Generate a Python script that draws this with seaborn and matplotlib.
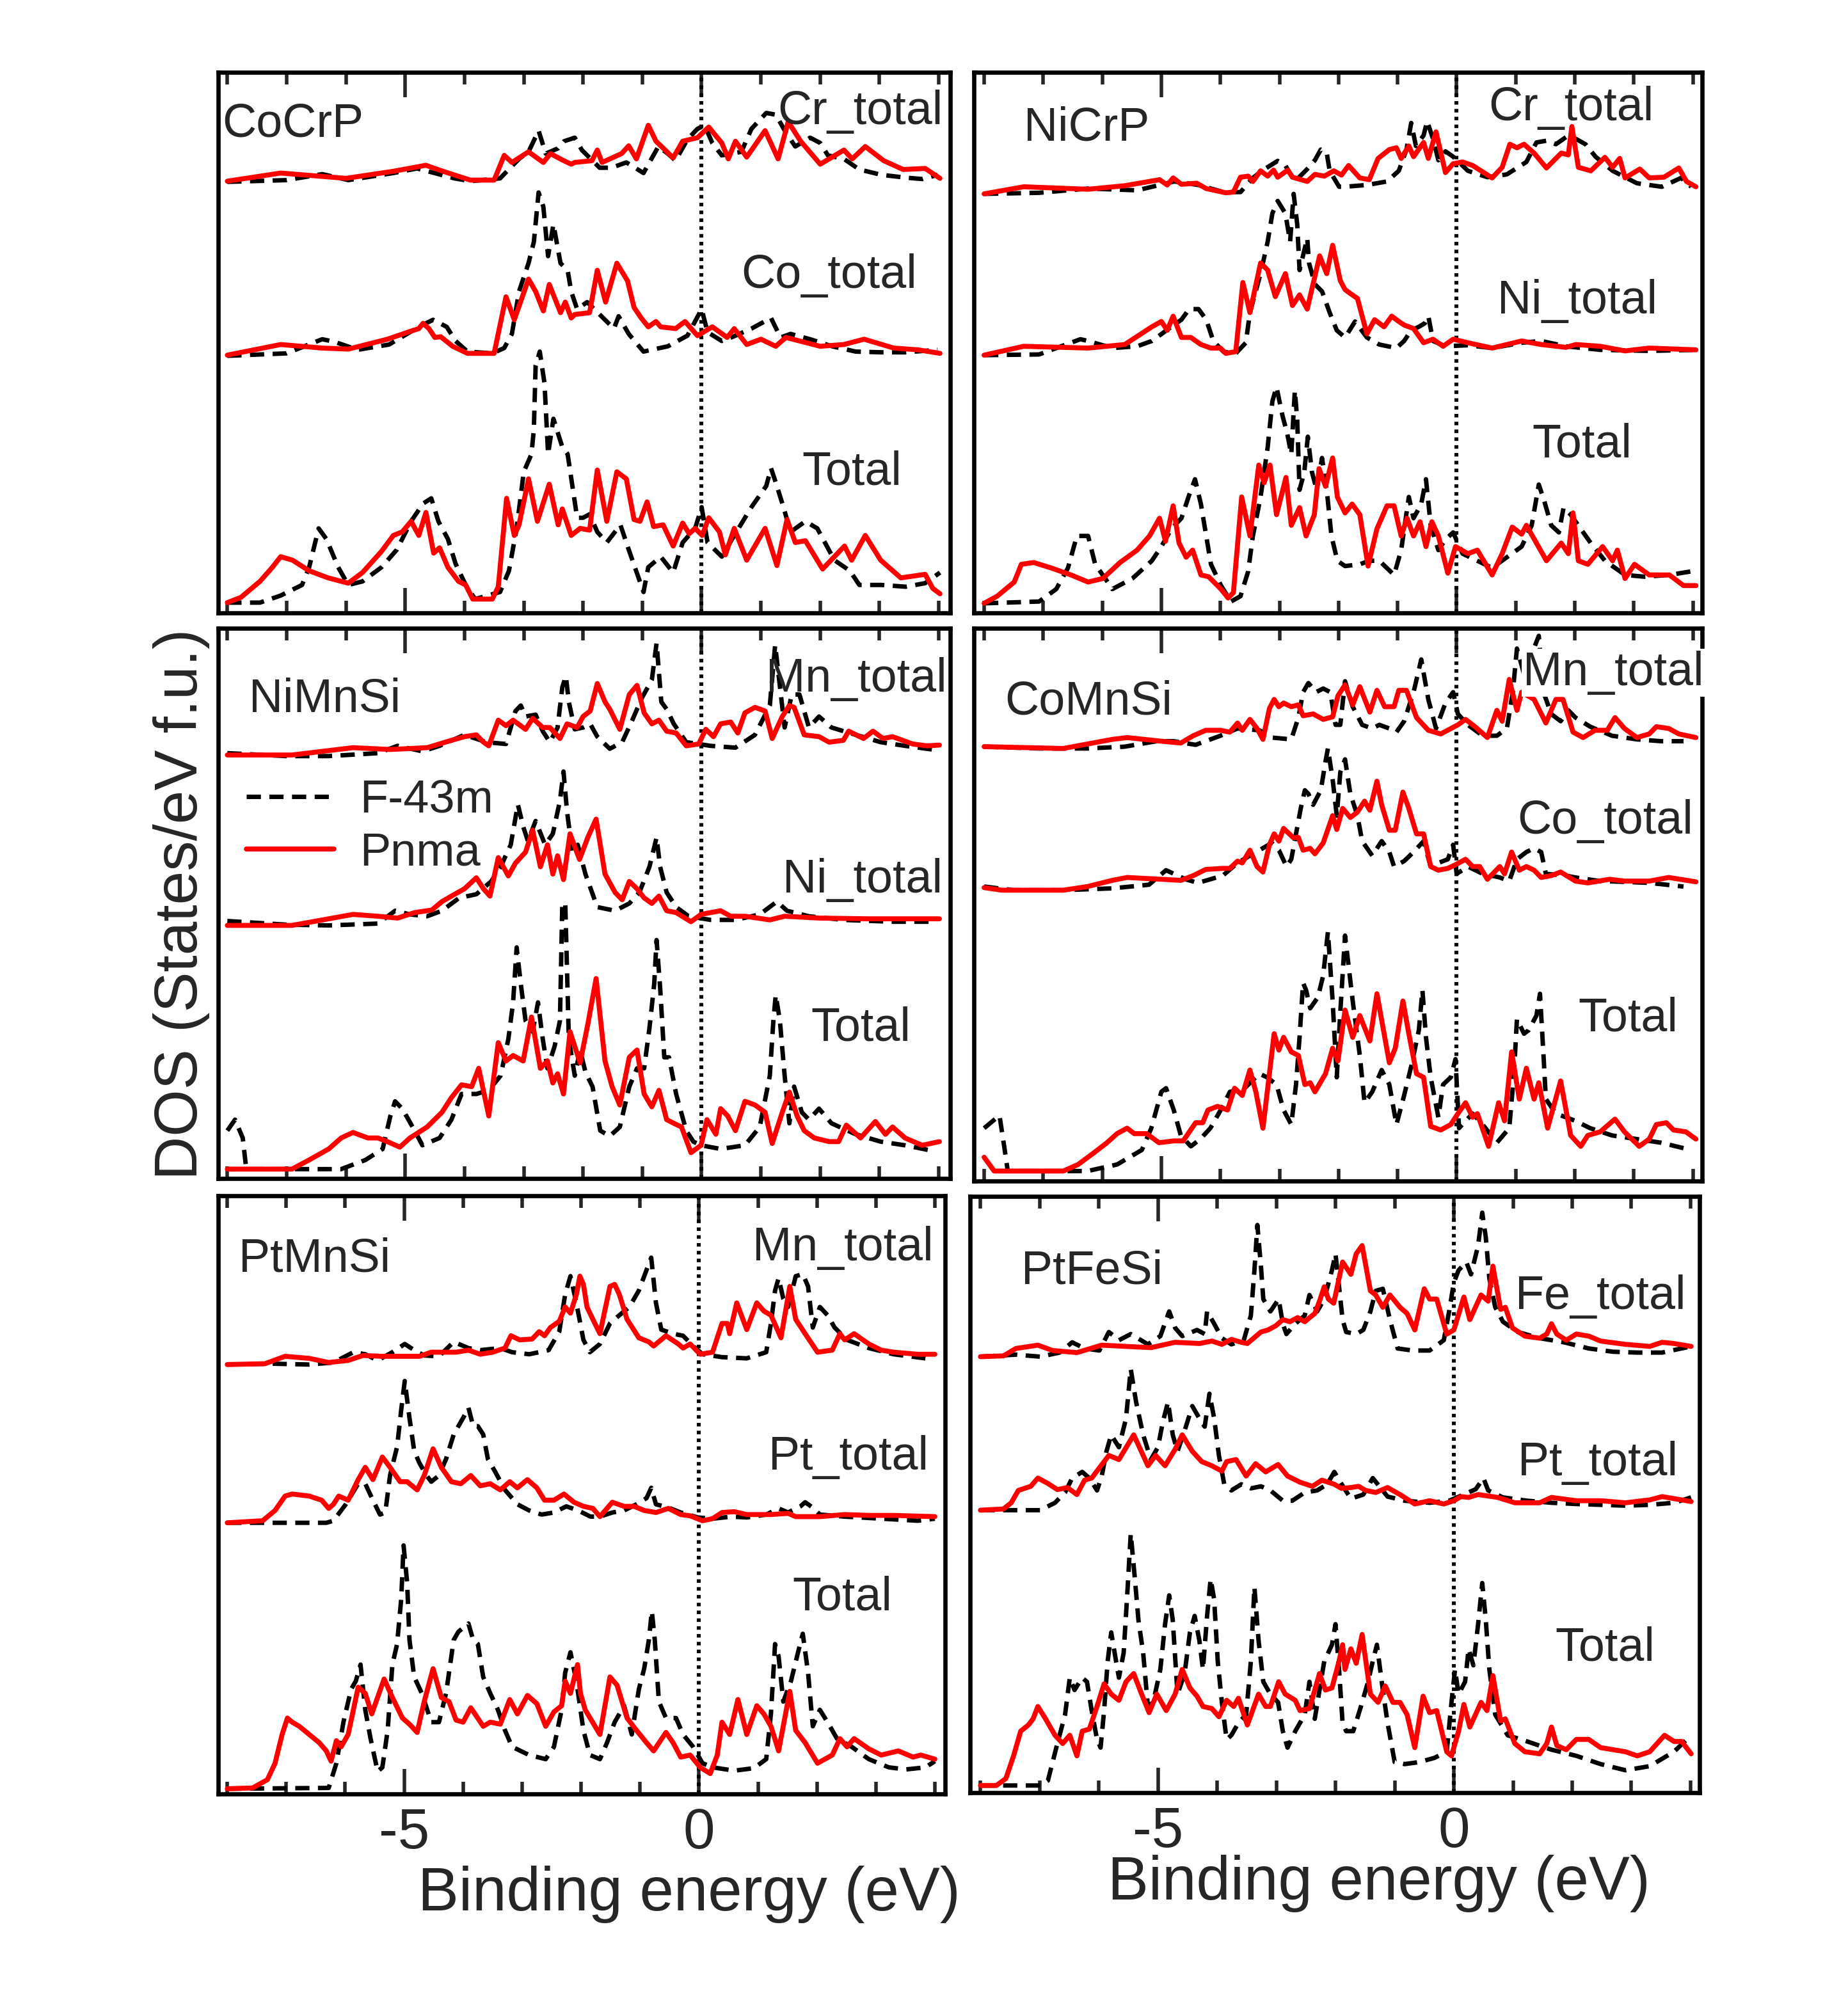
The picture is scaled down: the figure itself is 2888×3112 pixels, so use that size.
import numpy as np
import pandas as pd
import matplotlib
matplotlib.use("Agg")
import matplotlib.pyplot as plt
from matplotlib.lines import Line2D
from matplotlib.ticker import MultipleLocator
import seaborn as sns

# ---------------- data: energy (eV) and DOS (arb. units, above each curve's own baseline) -------------
# ---- CoCrP ----
COCRP_CR_P_E = [-8.0,-7.1,-6.0,-5.2,-4.65,-4.4,-3.9,-3.5,-3.33,-3.2,-2.92,-2.67,-2.55,-2.35,-2.2,-2.14,-1.85,-1.76,-1.68,-1.35,-1.23,-1.1,-0.9,-0.77,-0.48,-0.32,-0.07,0.12,0.34,0.45,0.57,0.76,1.07,1.29,1.46,1.67,2.0,2.4,2.54,2.76,3.07,3.4,3.77,4.02]
COCRP_CR_P_D = [0,.23,.08,.28,.45,.30,.03,.03,.73,.53,.83,.53,.78,.60,.48,.53,.58,.88,.53,.78,1.00,.63,1.58,1.13,.66,1.13,1.23,1.53,1.08,.63,1.13,.68,1.43,.63,1.68,1.13,.48,.88,.63,.98,.58,.33,.36,.08]
COCRP_CR_F_E = [-8,-7.0,-6.4,-5.96,-5.2,-4.8,-4.17,-3.9,-3.4,-3.08,-2.92,-2.75,-2.63,-2.42,-2.32,-2.14,-2.02,-1.72,-1.52,-1.27,-0.98,-0.73,-0.57,-0.44,-0.24,-0.07,0.05,0.18,0.34,0.67,0.84,1.09,1.25,1.42,1.58,1.83,2.0,2.13,2.4,2.66,3.03,3.44,3.73,3.98]
COCRP_CR_F_D = [-.02,.03,.20,.03,.23,.36,.08,0,.08,.63,.83,1.43,.78,.93,1.13,1.23,.88,.38,.38,.53,.23,.98,.78,.58,1.18,1.48,1.58,1.08,.73,.83,1.48,1.93,1.88,1.38,.98,1.23,1.08,.73,.63,.33,.18,.10,.06,.18]
COCRP_CO_P_E = [-8,-7.1,-6.4,-5.96,-5.3,-4.9,-4.77,-4.7,-4.6,-4.5,-4.4,-4.2,-3.95,-3.5,-3.3,-3.16,-2.92,-2.8,-2.67,-2.57,-2.38,-2.3,-2.2,-2.14,-1.89,-1.76,-1.62,-1.43,-1.25,-1.14,-1.02,-0.9,-0.77,-0.69,-0.44,-0.28,-0.07,0.18,0.43,0.55,0.76,1.0,1.25,1.42,2.0,2.4,2.74,3.24,3.65,4.02]
COCRP_CO_P_D = [0,.30,.20,.17,.45,.68,.75,.90,.75,.50,.52,.25,.05,.05,1.65,1.00,2.15,1.80,1.25,2.00,1.20,1.50,1.05,1.15,1.20,2.40,1.50,2.60,2.10,1.35,1.05,.80,.95,.80,.75,.95,.55,.80,.50,.75,.30,.45,.25,.50,.25,.30,.45,.20,.15,.05]
COCRP_CO_F_E = [-8,-7.0,-6.4,-6.2,-5.8,-5.27,-4.77,-4.53,-4.3,-4.15,-3.95,-3.53,-3.33,-3.2,-3.08,-2.92,-2.83,-2.75,-2.67,-2.59,-2.5,-2.38,-2.26,-2.2,-2.1,-1.93,-1.72,-1.48,-1.4,-1.23,-0.98,-0.57,-0.24,0.0,0.1,0.34,0.5,0.84,1.17,1.33,1.5,1.83,2.2,2.6,3.03,3.44,3.98]
COCRP_CO_F_D = [-.02,.05,.45,.38,.15,.30,.80,1.00,.80,.40,.10,.05,.20,.60,1.80,2.60,3.20,4.60,4.20,2.80,3.70,2.60,2.40,1.80,1.30,1.50,1.15,.75,1.10,.60,.10,.25,.55,1.30,.65,.40,.50,.75,1.05,.50,.60,.45,.25,.10,.08,.08,.15]
COCRP_TOT_P_E = [-8,-7.77,-7.45,-7.24,-7.1,-6.9,-6.62,-6.3,-5.96,-5.72,-5.4,-5.2,-5.05,-4.9,-4.77,-4.65,-4.52,-4.42,-4.28,-4.1,-3.98,-3.86,-3.53,-3.43,-3.29,-3.16,-3.08,-2.92,-2.77,-2.57,-2.42,-2.35,-2.2,-2.05,-1.89,-1.76,-1.6,-1.43,-1.27,-1.14,-1.04,-0.92,-0.81,-0.65,-0.48,-0.32,-0.21,-0.11,0.01,0.12,0.3,0.4,0.55,0.76,1.07,1.27,1.44,1.58,1.75,2.04,2.41,2.53,2.76,3.02,3.36,3.77,3.9,4.02]
COCRP_TOT_P_D = [0,.15,.60,1.00,1.30,1.20,.90,.70,.55,.85,1.45,1.90,2.00,2.30,1.90,2.55,1.40,1.55,1.00,.60,.50,.10,.10,.45,2.95,1.90,2.20,3.50,2.30,3.35,2.20,2.65,1.90,2.10,2.05,3.75,2.30,3.70,3.50,2.35,2.30,2.85,2.15,2.20,1.60,2.25,1.95,2.10,1.90,2.40,2.00,1.35,2.10,1.20,2.10,1.05,2.35,1.70,1.75,.95,1.60,1.20,1.90,1.20,.70,.80,.40,.25]
COCRP_TOT_F_E = [-8,-7.45,-7.1,-6.74,-6.62,-6.46,-6.33,-6.13,-5.96,-5.72,-5.4,-5.14,-4.9,-4.7,-4.56,-4.44,-4.28,-4.15,-3.98,-3.82,-3.4,-3.25,-3.12,-3.0,-2.87,-2.83,-2.8,-2.73,-2.65,-2.59,-2.5,-2.35,-2.26,-2.1,-2.0,-1.89,-1.76,-1.6,-1.37,-1.23,-0.98,-0.9,-0.69,-0.48,-0.32,-0.11,0.0,0.1,0.34,0.55,0.84,1.09,1.17,1.25,1.38,1.5,1.75,1.95,2.24,2.5,2.66,3.03,3.44,3.77,4.02]
COCRP_TOT_F_D = [0,0,.20,.50,1.00,2.10,1.80,1.00,.50,.60,1.00,1.50,2.30,2.80,2.95,2.30,1.80,1.10,.50,.10,.30,.90,2.10,3.70,4.20,4.90,6.70,7.10,6.20,4.20,5.20,4.40,4.20,2.40,2.40,2.50,2.00,1.70,2.20,1.50,.30,1.00,1.30,.85,1.70,2.10,2.70,1.70,1.30,1.90,2.70,3.30,3.80,3.40,2.70,2.00,2.30,2.10,1.20,.90,.50,.50,.45,.55,.85]

# ---- NiCrP ----
NICRP_CR_P_E = [-8,-7.33,-6.24,-5.62,-5.03,-4.9,-4.8,-4.66,-4.4,-4.24,-3.91,-3.78,-3.66,-3.53,-3.45,-3.32,-3.2,-3.1,-3.03,-2.86,-2.78,-2.53,-2.4,-2.24,-2.08,-1.95,-1.83,-1.64,-1.48,-1.33,-1.14,-1.02,-0.94,-0.81,-0.73,-0.56,-0.48,-0.35,-0.19,-0.06,0.1,0.27,0.6,0.77,0.9,1.02,1.14,1.31,1.52,1.77,1.89,1.95,2.06,2.27,2.51,2.64,2.76,2.85,3.1,3.26,3.51,3.76,3.89,4.05]
NICRP_CR_P_D = [0,.20,.13,.23,.40,.25,.45,.27,.30,.15,.03,.05,.47,.50,.35,.65,.50,.67,.47,.67,.47,.35,.55,.50,.65,.53,.80,.45,.40,1.00,1.25,1.30,1.00,1.35,1.05,1.45,1.00,1.75,.60,.85,.90,.80,.45,.75,1.40,1.30,1.40,1.15,.73,1.15,1.10,1.90,.75,.65,1.03,.75,1.00,.45,.70,.45,.47,.73,.35,.20]
NICRP_CR_F_E = [-8,-7.07,-6.24,-5.41,-4.78,-4.37,-3.95,-3.66,-3.45,-3.28,-3.03,-2.9,-2.74,-2.53,-2.4,-2.3,-2.2,-2.15,-1.99,-1.9,-1.52,-1.18,-0.98,-0.85,-0.77,-0.69,-0.56,-0.5,-0.4,-0.31,-0.19,-0.06,0.19,0.52,0.85,1.18,1.35,1.52,1.68,1.85,2.02,2.18,2.35,2.64,3.05,3.47,3.8,3.97]
NICRP_CR_F_D = [0,.03,.15,.10,.35,.25,.05,.05,.45,.67,.93,.80,.35,.70,.95,1.25,1.15,.65,.20,.20,.25,.35,.65,1.25,2.00,1.35,1.65,2.05,1.55,.95,1.20,1.05,.65,.47,.55,.90,1.45,1.50,1.40,1.60,1.55,1.40,1.05,.65,.30,.20,.45,.20]
NICRP_NI_P_E = [-8,-7.33,-6.24,-5.62,-5.16,-5.0,-4.9,-4.8,-4.66,-4.5,-4.33,-4.16,-4.0,-3.91,-3.74,-3.62,-3.5,-3.32,-3.2,-3.07,-2.9,-2.78,-2.66,-2.53,-2.32,-2.2,-2.1,-1.97,-1.89,-1.81,-1.68,-1.52,-1.39,-1.23,-1.1,-0.98,-0.89,-0.73,-0.56,-0.4,-0.23,-0.06,0.19,0.6,1.1,1.43,1.85,2.02,2.43,2.85,3.26,4.05]
NICRP_NI_P_D = [0,.25,.20,.30,.80,.95,.70,1.10,.50,.50,.30,.20,.20,.05,.10,2.05,1.20,2.60,2.40,1.65,2.30,1.40,1.70,1.30,2.80,2.30,3.10,2.10,1.85,1.75,1.60,.60,1.00,.80,1.10,.95,.85,.75,.35,.45,.25,.45,.35,.20,.40,.30,.22,.30,.25,.12,.20,.15]
NICRP_NI_F_E = [-8,-7.07,-6.37,-6.24,-5.83,-5.41,-5.16,-4.83,-4.66,-4.53,-4.37,-4.24,-4.12,-3.95,-3.74,-3.57,-3.5,-3.32,-3.2,-3.12,-3.03,-2.9,-2.82,-2.76,-2.7,-2.66,-2.53,-2.5,-2.4,-2.28,-2.15,-2.03,-1.89,-1.72,-1.52,-1.31,-1.02,-0.89,-0.77,-0.64,-0.54,-0.48,-0.4,-0.19,0.19,0.6,1.1,1.43,1.85,2.43,3.26,4.05]
NICRP_NI_F_D = [0,.02,.45,.40,.20,.25,.40,.80,1.00,1.30,1.30,1.00,.40,.10,.05,.35,1.20,2.30,3.20,4.00,4.35,4.00,3.20,4.55,3.70,2.40,3.30,2.60,2.00,1.80,1.20,.70,.50,.95,.50,.30,.20,.40,.70,.80,.90,1.10,.40,.25,.28,.20,.35,.40,.25,.15,.12,.15]
NICRP_TOT_P_E = [-8,-7.78,-7.49,-7.37,-7.16,-6.87,-6.53,-6.24,-5.99,-5.7,-5.41,-5.2,-5.03,-4.93,-4.8,-4.7,-4.58,-4.47,-4.33,-4.2,-3.99,-3.87,-3.78,-3.64,-3.5,-3.35,-3.26,-3.16,-3.05,-2.89,-2.8,-2.66,-2.55,-2.41,-2.33,-2.22,-2.1,-2.02,-1.89,-1.77,-1.64,-1.5,-1.35,-1.18,-1.06,-0.94,-0.84,-0.73,-0.62,-0.52,-0.42,-0.31,-0.15,-0.02,0.19,0.35,0.6,0.77,0.94,1.1,1.18,1.52,1.77,1.89,1.97,2.06,2.22,2.47,2.64,2.72,2.85,3.01,3.26,3.6,3.84,4.05]
NICRP_TOT_P_D = [0,.20,.60,1.10,1.15,1.00,.80,.60,.70,1.15,1.50,1.90,2.40,1.75,2.75,1.70,1.30,1.50,.80,.75,.40,.15,.30,3.00,1.90,3.90,3.40,3.90,2.50,3.55,2.20,2.70,1.90,2.50,3.80,3.30,4.10,3.00,2.55,2.80,2.50,1.05,2.10,2.75,2.75,1.90,2.40,1.90,2.30,1.60,2.30,1.90,.85,1.60,1.40,1.50,.80,1.40,2.15,1.95,2.20,1.20,1.70,1.40,2.55,1.20,1.10,1.60,1.20,1.50,.70,1.10,.80,.80,.50,.50]
NICRP_TOT_F_E = [-8,-7.07,-6.78,-6.58,-6.43,-6.24,-6.12,-5.95,-5.83,-5.49,-5.16,-5.0,-4.83,-4.66,-4.53,-4.43,-4.33,-4.24,-4.16,-3.99,-3.82,-3.66,-3.53,-3.45,-3.32,-3.2,-3.12,-3.05,-2.95,-2.87,-2.8,-2.74,-2.7,-2.66,-2.58,-2.52,-2.45,-2.37,-2.28,-2.2,-2.12,-2.02,-1.89,-1.64,-1.48,-1.31,-1.06,-0.94,-0.81,-0.73,-0.6,-0.52,-0.44,-0.31,-0.19,-0.06,0.1,0.35,0.6,0.85,1.1,1.27,1.39,1.48,1.6,1.73,1.81,1.93,2.1,2.27,2.51,2.85,3.18,3.6,3.97]
NICRP_TOT_F_D = [0,.05,.40,1.00,1.90,1.90,1.10,.70,.40,.70,1.20,1.60,2.10,2.40,3.05,3.50,2.80,1.90,1.10,.50,.05,.20,.90,1.90,3.00,4.40,5.70,6.10,5.30,4.80,4.20,6.00,5.20,3.20,3.70,4.70,3.70,3.20,4.10,3.20,1.90,1.20,1.05,1.10,1.20,1.20,.80,1.50,3.00,2.40,2.80,3.50,2.20,1.50,1.80,2.00,1.40,1.20,1.00,1.30,1.60,2.20,3.35,2.90,2.20,2.00,2.70,2.50,2.10,1.70,1.20,.80,.75,.80,.90]

# ---- NiMnSi ----
NIMNSI_MN_P_E = [-8,-6.91,-5.88,-5.25,-4.63,-4.22,-4.0,-3.8,-3.68,-3.59,-3.43,-3.3,-3.18,-2.97,-2.85,-2.68,-2.56,-2.39,-2.27,-2.1,-2.0,-1.88,-1.76,-1.63,-1.55,-1.38,-1.22,-1.09,-0.97,-0.84,-0.72,-0.59,-0.43,-0.26,-0.05,0.07,0.2,0.32,0.49,0.61,0.73,0.9,1.07,1.19,1.36,1.48,1.56,1.73,1.98,2.15,2.39,2.48,2.73,2.89,3.06,3.22,3.56,3.8,4.01]
NIMNSI_MN_P_D = [0,0,.20,.15,.20,.40,.50,.55,.35,.25,.95,.80,.95,.70,1.00,.75,.75,.45,.85,.75,1.05,1.20,1.95,1.45,1.25,.70,1.65,1.90,1.15,.85,.95,.65,.60,.25,.30,.70,.50,.85,.90,.60,1.15,1.30,1.20,.45,1.05,1.35,1.30,.55,.50,.35,.40,.65,.45,.65,.45,.50,.30,.25,.27]
NIMNSI_MN_F_E = [-8,-7.0,-6.29,-5.46,-5.13,-4.71,-4.42,-4.0,-3.63,-3.3,-3.14,-3.05,-2.97,-2.8,-2.68,-2.56,-2.43,-2.35,-2.29,-2.24,-2.14,-2.0,-1.88,-1.76,-1.55,-1.34,-1.17,-1.01,-0.84,-0.76,-0.68,-0.59,-0.47,-0.26,0.15,0.57,0.9,1.15,1.24,1.4,1.52,1.65,1.81,1.98,2.19,2.6,3.02,3.43,3.89]
NIMNSI_MN_F_D = [.05,-.03,-.03,.05,.25,.10,.25,.55,.35,.30,1.20,1.35,1.05,1.10,.65,.35,.75,1.85,2.15,1.45,.70,.75,.85,.50,.17,.35,.95,1.55,2.05,3.05,1.45,1.25,.85,.35,.25,.20,.55,1.35,3.00,.75,1.65,1.65,.75,1.05,.75,.55,.35,.25,.15]
NIMNSI_NI_P_E = [-8,-6.91,-6.29,-5.88,-5.46,-5.13,-4.84,-4.55,-4.38,-4.22,-4.0,-3.8,-3.68,-3.57,-3.43,-3.26,-3.14,-2.97,-2.85,-2.72,-2.6,-2.51,-2.43,-2.33,-2.22,-2.06,-1.92,-1.78,-1.63,-1.46,-1.34,-1.22,-1.09,-0.97,-0.84,-0.72,-0.59,-0.43,-0.18,-0.01,0.15,0.32,0.49,0.73,1.15,1.4,1.98,2.81,4.01]
NIMNSI_NI_P_D = [0,0,.18,.30,.25,.20,.35,.42,.65,.80,1.00,1.30,1.00,.80,1.85,1.35,1.70,2.00,2.60,1.60,2.20,1.40,1.90,1.25,2.50,1.80,2.40,2.90,1.40,.90,.70,1.20,1.00,.75,.60,.80,.40,.35,.10,.30,.35,.40,.25,.25,.15,.25,.20,.18,.18]
NIMNSI_NI_F_E = [-8,-7.0,-6.29,-5.46,-5.17,-4.92,-4.63,-4.38,-4.09,-3.8,-3.55,-3.39,-3.22,-3.1,-3.01,-2.93,-2.8,-2.64,-2.51,-2.39,-2.33,-2.27,-2.18,-2.09,-1.96,-1.76,-1.46,-1.22,-1.05,-0.88,-0.76,-0.7,-0.59,-0.43,-0.22,0.15,0.57,0.98,1.27,1.44,1.81,2.39,3.22,3.97]
NIMNSI_NI_F_D = [.12,.02,0,.05,.40,.30,.25,.40,.75,.85,1.20,1.60,2.20,3.30,2.70,2.30,2.85,2.20,2.50,3.40,4.20,3.10,2.00,2.20,1.40,.50,.40,.60,.90,1.60,2.40,1.60,.90,.50,.25,.15,.15,.30,.65,.40,.25,.15,.10,.10]
NIMNSI_TOT_P_E = [-8,-6.91,-6.62,-6.29,-6.08,-5.88,-5.63,-5.46,-5.3,-5.09,-4.92,-4.63,-4.38,-4.22,-4.05,-3.88,-3.76,-3.59,-3.43,-3.3,-3.18,-3.01,-2.87,-2.72,-2.6,-2.51,-2.43,-2.33,-2.22,-2.05,-1.92,-1.78,-1.63,-1.51,-1.38,-1.22,-1.09,-0.97,-0.84,-0.72,-0.59,-0.47,-0.34,-0.18,-0.01,0.09,0.24,0.32,0.44,0.57,0.73,0.9,1.07,1.19,1.36,1.48,1.61,1.73,1.9,2.15,2.31,2.44,2.68,2.93,3.1,3.22,3.43,3.72,4.01]
NIMNSI_TOT_P_D = [0,0,.25,.55,.85,1.00,.85,.85,.75,.60,.85,1.15,1.55,1.95,2.30,2.25,2.75,1.45,3.45,2.95,3.10,2.95,4.15,2.75,2.95,2.35,2.60,2.05,3.75,2.90,3.95,5.20,2.95,2.25,1.75,3.05,3.25,2.05,1.70,2.15,1.35,1.25,1.15,.45,.65,1.35,.95,1.65,1.45,1.05,1.85,1.75,1.55,.70,1.55,2.10,1.45,1.05,.85,.75,.75,1.20,.85,1.30,.95,1.15,.85,.65,.75]
NIMNSI_TOT_F_E = [-8,-7.87,-7.74,-7.68,-6.08,-5.67,-5.38,-5.25,-5.17,-5.05,-4.84,-4.71,-4.42,-4.22,-4.05,-3.8,-3.59,-3.39,-3.26,-3.18,-3.12,-3.05,-2.97,-2.85,-2.76,-2.68,-2.6,-2.48,-2.39,-2.35,-2.3,-2.24,-2.14,-2.05,-1.96,-1.84,-1.71,-1.55,-1.38,-1.22,-1.09,-0.97,-0.88,-0.8,-0.76,-0.7,-0.63,-0.55,-0.43,-0.26,-0.14,-0.01,0.32,0.73,0.98,1.15,1.21,1.25,1.32,1.4,1.48,1.56,1.69,1.81,1.98,2.19,2.6,3.02,3.43,3.89]
NIMNSI_TOT_F_D = [1.05,1.35,.85,0,0,.25,.55,1.45,1.85,1.65,1.05,.65,.85,1.35,2.05,2.05,2.15,2.55,3.55,4.55,6.05,5.05,4.05,3.75,4.55,3.55,2.75,3.35,4.05,7.25,7.25,3.55,2.55,3.25,2.65,2.25,1.05,.90,1.15,2.25,2.75,2.75,3.85,5.05,6.25,4.95,3.05,3.05,2.05,1.05,.75,.65,.55,.65,1.15,2.55,4.05,4.75,4.05,2.55,1.25,2.25,1.55,1.35,1.65,1.25,.95,.75,.65,.50]

# ---- CoMnSi ----
COMNSI_MN_P_E = [-8,-6.66,-5.83,-5.58,-5.0,-4.67,-4.46,-4.25,-4.0,-3.84,-3.71,-3.63,-3.5,-3.38,-3.28,-3.17,-3.09,-3.01,-2.93,-2.8,-2.68,-2.6,-2.43,-2.26,-2.1,-2.01,-1.89,-1.76,-1.64,-1.47,-1.35,-1.22,-1.06,-0.98,-0.85,-0.68,-0.48,-0.27,0.02,0.15,0.31,0.52,0.68,0.77,0.89,1.02,1.1,1.31,1.51,1.68,1.8,1.97,2.14,2.34,2.55,2.68,2.84,3.05,3.26,3.38,3.59,3.76,4.05]
COMNSI_MN_P_D = [.02,-.03,.22,.27,.17,.12,.32,.47,.47,.42,.67,.47,.77,.52,.22,1.07,1.32,1.12,1.22,1.12,1.17,.87,.92,.77,.84,1.42,1.72,1.17,1.67,.97,1.57,1.12,1.12,1.57,1.57,.82,.47,.37,.62,.77,.57,.27,1.02,.72,1.87,1.02,1.52,1.32,.67,1.32,1.32,.42,.27,.47,.47,.82,.52,.27,.37,.57,.52,.37,.27]
COMNSI_MN_F_E = [-8,-7.07,-6.25,-5.62,-5.08,-4.79,-4.42,-4.0,-3.71,-3.34,-3.13,-2.8,-2.68,-2.6,-2.51,-2.38,-2.26,-2.14,-2.05,-1.97,-1.89,-1.76,-1.6,-1.43,-1.31,-1.14,-1.02,-0.89,-0.73,-0.6,-0.48,-0.35,-0.19,-0.06,0.02,0.19,0.44,0.68,0.85,0.95,1.02,1.14,1.39,1.47,1.6,1.76,1.89,2.01,2.26,2.63,3.05,3.46,3.84]
COMNSI_MN_F_D = [.02,-.03,-.03,.02,.17,.17,.07,.32,.52,.47,.27,.22,.82,1.52,1.77,1.52,1.62,1.52,.62,.62,1.82,1.12,.62,.52,.62,.52,.42,.72,1.52,2.42,1.32,.52,1.22,1.52,.92,.62,.32,.32,.52,1.52,2.72,2.02,3.07,1.52,.92,.72,1.02,.82,.57,.32,.22,.17,.17]
COMNSI_CO_P_E = [-8,-7.7,-6.66,-6.25,-5.83,-5.58,-5.0,-4.67,-4.46,-4.25,-3.96,-3.84,-3.71,-3.63,-3.5,-3.38,-3.28,-3.17,-3.09,-3.01,-2.93,-2.77,-2.68,-2.6,-2.48,-2.4,-2.26,-2.1,-2.03,-1.93,-1.8,-1.68,-1.56,-1.47,-1.35,-1.27,-1.14,-1.04,-0.91,-0.81,-0.68,-0.56,-0.44,-0.31,-0.15,-0.02,0.15,0.27,0.39,0.52,0.73,0.81,0.93,1.06,1.18,1.31,1.43,1.6,1.76,2.01,2.22,2.59,2.84,3.26,3.59,4.05]
COMNSI_CO_P_D = [.02,-.05,-.05,.05,.22,.30,.25,.22,.35,.52,.55,.55,.75,.70,1.05,.60,.45,1.20,1.50,1.30,1.65,1.40,1.40,1.05,1.10,.95,1.25,2.00,1.62,2.20,1.95,2.10,2.40,2.15,2.95,2.30,1.60,1.60,2.65,2.20,1.50,1.50,.60,.50,.55,.65,.80,.60,.60,.25,.60,.40,1.00,.50,.60,.50,.30,.35,.45,.20,.15,.25,.20,.20,.30,.18]
COMNSI_CO_F_E = [-8,-7.5,-6.66,-5.83,-5.21,-4.92,-4.59,-4.38,-3.96,-3.71,-3.5,-3.34,-3.13,-3.01,-2.88,-2.8,-2.72,-2.64,-2.57,-2.51,-2.43,-2.3,-2.22,-2.18,-2.1,-2.03,-1.97,-1.89,-1.8,-1.68,-1.6,-1.43,-1.27,-1.14,-1.06,-0.89,-0.73,-0.56,-0.44,-0.31,-0.15,-0.06,0.0,0.19,0.44,0.73,0.89,1.02,1.18,1.31,1.43,1.51,1.85,2.01,2.43,2.84,3.26,3.84]
COMNSI_CO_F_D = [.05,-.05,-.05,0,.10,.50,.25,.15,.35,.70,.90,1.05,1.25,1.05,.60,.80,1.50,2.20,2.70,2.60,2.30,2.70,3.50,3.85,3.00,2.00,3.20,3.55,2.60,2.00,1.30,.90,1.30,1.00,.60,.75,1.00,1.30,.60,.70,.80,1.20,.40,.60,.40,.30,.20,.80,1.00,1.10,1.00,.40,.35,.30,.20,.18,.15,.05]
COMNSI_TOT_P_E = [-8,-7.83,-6.66,-6.41,-6.16,-5.92,-5.75,-5.58,-5.46,-5.25,-5.04,-4.79,-4.63,-4.42,-4.3,-4.21,-4.05,-3.88,-3.76,-3.63,-3.5,-3.4,-3.28,-3.17,-3.09,-3.01,-2.93,-2.8,-2.68,-2.57,-2.48,-2.4,-2.22,-2.1,-2.01,-1.89,-1.76,-1.64,-1.47,-1.35,-1.14,-1.04,-0.91,-0.81,-0.68,-0.56,-0.44,-0.27,-0.1,0.02,0.15,0.27,0.35,0.54,0.71,0.81,0.93,1.06,1.18,1.31,1.39,1.54,1.76,1.93,2.1,2.22,2.43,2.68,2.84,3.09,3.26,3.38,3.55,3.67,3.88,4.05]
COMNSI_TOT_P_D = [.38,0,0,.18,.48,.78,1.03,1.18,1.03,1.03,.78,.83,.83,1.33,1.33,1.68,1.78,1.68,2.28,2.08,2.78,2.18,1.18,2.68,3.78,3.33,3.68,3.28,3.18,2.38,2.43,2.18,2.68,3.38,3.03,4.43,3.68,4.28,3.58,4.88,2.98,3.38,4.68,3.78,2.68,2.58,1.23,1.13,1.28,1.58,1.88,1.48,1.58,.68,1.88,1.38,3.28,1.98,2.83,1.98,2.43,1.18,2.48,.98,.68,.98,1.08,1.43,1.08,.68,.88,1.28,1.33,1.13,1.08,.88]
COMNSI_TOT_F_E = [-8,-7.74,-7.66,-7.6,-6.25,-5.75,-5.33,-5.17,-5.0,-4.92,-4.79,-4.67,-4.5,-4.34,-4.17,-3.96,-3.84,-3.59,-3.34,-3.21,-3.05,-2.93,-2.8,-2.72,-2.66,-2.6,-2.55,-2.48,-2.35,-2.26,-2.18,-2.1,-2.03,-1.97,-1.89,-1.76,-1.64,-1.56,-1.43,-1.27,-1.14,-1.02,-0.89,-0.77,-0.64,-0.58,-0.52,-0.44,-0.31,-0.23,-0.1,-0.02,0.04,0.15,0.27,0.44,0.68,0.89,0.97,1.02,1.14,1.22,1.35,1.41,1.47,1.51,1.68,1.85,2.01,2.26,2.63,3.05,3.46,3.84]
COMNSI_TOT_F_D = [1.18,1.53,.68,0,0,.18,.58,1.18,2.18,2.28,1.68,.98,.68,.88,1.18,1.78,2.18,2.28,2.68,2.58,2.38,1.68,1.28,2.38,3.68,5.18,4.98,4.48,4.78,5.38,6.58,4.68,2.58,4.38,6.48,4.68,3.18,1.88,2.18,2.78,2.38,1.28,2.08,2.88,3.88,4.98,3.68,2.58,1.48,2.38,2.58,3.08,1.18,1.38,1.58,1.28,.78,1.18,2.68,4.18,3.78,3.88,4.28,4.88,3.18,1.98,1.58,1.48,1.38,1.18,.98,.88,.78,.63]

# ---- PtMnSi ----
PTMNSI_MN_P_E = [-8,-7.36,-7.02,-6.61,-6.28,-5.95,-5.7,-5.37,-4.74,-4.54,-4.12,-3.91,-3.71,-3.5,-3.29,-3.19,-3.04,-2.83,-2.71,-2.62,-2.52,-2.37,-2.27,-2.18,-2.08,-2.02,-1.96,-1.9,-1.8,-1.68,-1.51,-1.43,-1.35,-1.22,-1.02,-0.85,-0.77,-0.56,-0.35,-0.27,-0.15,0.02,0.23,0.39,0.48,0.52,0.64,0.81,0.98,1.1,1.22,1.39,1.54,1.64,1.8,2.01,2.26,2.39,2.47,2.63,2.88,3.09,3.3,3.71,4.0]
PTMNSI_MN_P_D = [0,.02,.20,.15,.05,.10,.22,.20,.20,.30,.30,.35,.25,.30,.40,.70,.60,.62,.80,.70,.90,1.05,1.40,1.25,1.70,2.15,1.95,1.40,1.10,.75,1.90,1.95,1.70,1.10,.65,.55,.45,.70,.50,.40,.50,.25,.30,1.00,1.00,.75,1.50,.85,1.50,1.30,1.20,.65,1.90,1.10,.75,.30,.35,.75,.60,.75,.50,.35,.30,.25,.25]
PTMNSI_MN_F_E = [-8,-7.23,-6.61,-6.2,-5.86,-5.66,-5.45,-5.2,-4.99,-4.83,-4.66,-4.41,-4.16,-3.91,-3.71,-3.37,-3.17,-2.88,-2.55,-2.37,-2.27,-2.18,-2.08,-1.96,-1.85,-1.68,-1.51,-1.35,-1.18,-1.02,-0.89,-0.81,-0.73,-0.64,-0.44,-0.27,-0.1,0.06,0.39,0.81,1.14,1.22,1.29,1.35,1.43,1.51,1.64,1.76,1.85,1.93,2.05,2.18,2.3,2.51,2.88,3.3,3.84]
PTMNSI_MN_F_D = [0,.02,0,.05,.30,.25,.10,.30,.50,.35,.22,.20,.55,.40,.35,.40,.30,.25,.35,.80,1.70,2.15,1.50,.60,.30,.50,1.00,1.20,1.40,1.80,2.30,2.60,1.50,.85,.75,.70,.45,.25,.18,.15,.30,1.00,1.80,2.10,1.60,1.40,2.15,2.20,1.90,.90,1.40,1.20,.90,.60,.40,.25,.15]
PTMNSI_PT_P_E = [-8,-7.4,-7.19,-7.02,-6.9,-6.61,-6.4,-6.28,-6.2,-6.11,-5.95,-5.78,-5.66,-5.53,-5.37,-5.24,-5.07,-4.95,-4.78,-4.66,-4.51,-4.37,-4.2,-4.04,-3.87,-3.71,-3.54,-3.37,-3.21,-3.08,-2.91,-2.75,-2.62,-2.46,-2.29,-2.12,-1.96,-1.8,-1.68,-1.47,-1.27,-1.1,-0.93,-0.73,-0.52,-0.31,-0.15,0.06,0.23,0.39,0.6,0.81,1.22,1.51,1.64,2.05,2.47,2.88,3.3,4.0]
PTMNSI_PT_P_D = [0,.05,.30,.65,.70,.65,.55,.35,.45,.65,.55,1.05,1.35,1.05,1.60,1.35,1.00,1.00,.80,1.15,1.80,1.35,1.00,.95,1.15,.90,.95,.80,1.00,.85,1.05,.85,.55,.55,.70,.50,.40,.35,.15,.50,.40,.40,.30,.25,.35,.20,.17,.05,.10,.25,.27,.20,.20,.23,.15,.15,.20,.18,.18,.15]
PTMNSI_PT_F_E = [-8,-6.32,-6.2,-5.99,-5.78,-5.66,-5.53,-5.41,-5.32,-5.24,-5.12,-5.05,-4.99,-4.91,-4.83,-4.74,-4.62,-4.54,-4.41,-4.29,-4.16,-4.0,-3.91,-3.83,-3.75,-3.66,-3.58,-3.46,-3.29,-3.08,-2.88,-2.67,-2.46,-2.25,-2.05,-1.84,-1.68,-1.47,-1.27,-1.06,-0.89,-0.81,-0.73,-0.52,-0.31,-0.02,0.23,0.56,0.81,1.14,1.35,1.51,1.72,1.8,1.93,2.05,2.47,3.09,3.71,4.0]
PTMNSI_PT_F_D = [0,0,.05,.45,.95,.95,.55,.20,.25,1.15,1.85,2.75,3.45,2.55,1.75,1.45,1.15,1.00,1.15,1.55,2.15,2.55,2.80,2.35,2.35,2.15,1.55,1.25,.80,.45,.30,.20,.25,.40,.30,.15,.15,.25,.30,.45,.60,.85,.45,.37,.25,.13,.10,.15,.13,.20,.35,.25,.40,.50,.37,.20,.15,.10,.05,.10]
PTMNSI_TOT_P_E = [-8,-7.57,-7.32,-7.19,-7.07,-6.98,-6.9,-6.78,-6.61,-6.44,-6.32,-6.24,-6.15,-6.07,-5.95,-5.78,-5.66,-5.55,-5.34,-5.2,-5.03,-4.91,-4.78,-4.66,-4.51,-4.37,-4.24,-4.12,-4.0,-3.87,-3.66,-3.54,-3.37,-3.21,-3.08,-2.91,-2.75,-2.6,-2.46,-2.33,-2.27,-2.18,-2.06,-2.01,-1.93,-1.68,-1.51,-1.39,-1.22,-1.06,-0.89,-0.77,-0.56,-0.44,-0.31,-0.15,0.02,0.19,0.31,0.39,0.52,0.66,0.81,0.98,1.1,1.22,1.35,1.54,1.64,1.8,2.01,2.26,2.39,2.51,2.63,2.88,3.09,3.38,3.63,3.76,4.0]
PTMNSI_TOT_P_D = [0,.02,.22,.62,1.32,1.72,1.62,1.52,1.32,1.12,.92,.67,1.17,1.02,1.32,2.47,2.32,1.82,2.67,2.22,1.72,1.57,1.37,2.12,2.92,2.22,2.12,1.67,1.62,1.97,1.52,1.62,1.57,2.17,1.82,2.27,2.07,1.52,1.87,2.02,2.62,2.32,3.02,2.32,1.92,1.32,2.72,2.52,1.72,1.42,1.12,.92,1.37,1.12,.77,.82,.52,.37,.82,1.62,1.32,2.17,1.32,2.02,1.82,1.52,.92,2.37,1.42,1.12,.62,.82,1.22,1.02,1.22,.97,.82,.92,.77,.82,.72]
PTMNSI_TOT_F_E = [-8,-6.28,-6.15,-6.03,-5.9,-5.82,-5.74,-5.66,-5.57,-5.45,-5.37,-5.28,-5.2,-5.12,-5.05,-5.01,-4.95,-4.91,-4.83,-4.7,-4.54,-4.41,-4.29,-4.16,-4.08,-3.91,-3.83,-3.75,-3.66,-3.54,-3.41,-3.29,-3.17,-2.88,-2.6,-2.46,-2.33,-2.27,-2.18,-2.08,-1.96,-1.85,-1.68,-1.56,-1.43,-1.27,-1.14,-1.02,-0.93,-0.85,-0.8,-0.75,-0.68,-0.56,-0.39,-0.27,-0.1,0.06,0.23,0.6,0.93,1.14,1.22,1.29,1.35,1.43,1.56,1.68,1.76,1.85,1.93,2.05,2.18,2.34,2.59,2.88,3.22,3.51,3.84,4.0]
PTMNSI_TOT_F_D = [0,.02,.62,1.62,2.42,2.62,3.02,1.92,1.22,.42,.52,1.42,3.02,3.52,4.62,5.92,5.02,3.62,2.72,2.32,1.62,1.62,2.32,3.62,3.82,4.02,3.62,3.52,2.72,2.32,1.92,1.42,1.02,.82,.72,1.02,1.92,2.82,3.32,2.62,1.42,.82,.72,1.12,1.62,2.02,1.32,2.42,2.92,3.62,4.32,3.62,2.12,1.72,1.72,1.32,1.02,.62,.52,.44,.50,.72,1.82,3.52,3.22,2.12,2.62,3.32,3.77,2.82,1.52,1.92,1.62,1.22,1.02,.72,.52,.47,.52,.67]

# ---- PtFeSi ----
PTFESI_FE_P_E = [-8,-7.61,-7.4,-7.03,-6.78,-6.37,-5.95,-5.54,-5.12,-4.71,-4.3,-4.09,-3.92,-3.76,-3.59,-3.49,-3.26,-3.14,-3.01,-2.89,-2.77,-2.64,-2.52,-2.35,-2.27,-2.19,-2.12,-2.03,-1.88,-1.74,-1.65,-1.55,-1.41,-1.32,-1.2,-1.08,-0.91,-0.79,-0.66,-0.5,-0.41,-0.29,-0.12,0,0.17,0.27,0.46,0.58,0.66,0.79,0.87,0.99,1.2,1.45,1.57,1.65,1.74,1.9,2.07,2.28,2.48,2.9,3.31,3.52,3.72,4.01]
PTFESI_FE_P_D = [0,.02,.20,.28,.15,.10,.28,.25,.22,.35,.32,.38,.30,.42,.35,.32,.60,.65,.75,.90,.85,.95,.85,1.05,1.35,1.70,1.40,1.30,2.30,2.00,2.50,2.70,1.60,1.50,1.20,1.50,1.20,1.05,.65,1.65,1.40,1.40,.55,.65,1.45,.90,1.50,1.35,2.20,1.15,1.20,.70,.50,.45,.55,.80,.55,.40,.55,.50,.38,.30,.25,.35,.32,.25]
PTFESI_FE_F_E = [-8,-7.4,-6.99,-6.66,-6.45,-6.24,-5.99,-5.83,-5.66,-5.46,-5.17,-4.96,-4.81,-4.71,-4.59,-4.34,-4.21,-4.17,-4.05,-3.92,-3.76,-3.55,-3.43,-3.37,-3.32,-3.26,-3.22,-3.1,-2.96,-2.89,-2.83,-2.68,-2.52,-2.44,-2.31,-2.19,-2.06,-2.0,-1.94,-1.88,-1.82,-1.65,-1.53,-1.41,-1.32,-1.2,-1.08,-0.95,-0.7,-0.41,-0.17,-0.08,0,0.08,0.21,0.29,0.41,0.48,0.54,0.6,0.7,0.83,1.08,1.45,1.86,2.28,2.69,3.1,3.52,4.01]
PTFESI_FE_F_D = [0,.05,0,.10,.35,.20,.15,.60,.40,.55,.30,.50,1.10,.70,.50,.65,.55,1.10,.80,.45,.30,.40,1.00,2.10,3.20,2.20,1.40,1.10,1.40,.80,.55,.80,1.00,1.50,1.10,1.40,2.10,2.50,1.70,.90,.60,.55,.65,1.10,1.60,1.65,.90,.20,.15,.15,.40,1.10,1.80,2.10,2.30,2.00,2.70,3.50,2.90,1.90,1.20,.85,.60,.45,.35,.20,.12,.10,.10,.25]
PTFESI_PT_P_E = [-8,-7.61,-7.48,-7.36,-7.15,-7.03,-6.86,-6.7,-6.53,-6.37,-6.24,-6.12,-5.99,-5.83,-5.66,-5.41,-5.17,-5.04,-4.88,-4.71,-4.59,-4.42,-4.26,-4.09,-3.92,-3.84,-3.68,-3.51,-3.35,-3.18,-2.97,-2.81,-2.6,-2.39,-2.23,-2.02,-1.9,-1.74,-1.61,-1.49,-1.32,-1.12,-0.91,-0.66,-0.41,-0.17,0,0.12,0.25,0.41,0.74,1.03,1.45,1.65,2.07,2.48,2.9,3.31,3.52,4.01]
PTFESI_PT_P_D = [0,.03,.18,.48,.58,.78,.65,.50,.55,.38,.73,.78,1.03,1.33,1.23,1.83,1.08,1.33,1.08,1.48,1.83,1.43,1.18,1.08,.95,1.18,1.23,.83,1.13,.93,1.11,.83,.68,.58,.73,.63,.53,.55,.58,.48,.43,.55,.38,.15,.23,.15,.23,.33,.31,.38,.31,.18,.18,.31,.23,.23,.18,.25,.33,.21]
PTFESI_PT_F_E = [-8,-6.99,-6.74,-6.57,-6.45,-6.28,-6.16,-6.03,-5.95,-5.87,-5.79,-5.66,-5.54,-5.46,-5.37,-5.25,-5.12,-5.0,-4.92,-4.83,-4.75,-4.67,-4.55,-4.42,-4.3,-4.21,-4.13,-4.05,-3.97,-3.88,-3.76,-3.59,-3.43,-3.26,-3.1,-2.89,-2.73,-2.52,-2.31,-2.14,-2.02,-1.94,-1.74,-1.53,-1.37,-1.12,-0.83,-0.41,-0.08,0.17,0.37,0.5,0.58,0.83,1.24,1.65,2.07,2.48,2.9,3.31,3.72,4.01]
PTFESI_PT_F_D = [0,0,.18,.43,.78,.93,.78,.48,.83,1.43,1.83,1.53,2.23,3.43,2.63,1.83,1.23,1.53,2.13,2.63,1.83,1.43,1.93,2.53,2.23,2.03,2.83,2.23,1.33,.63,.48,.63,.53,.58,.48,.23,.23,.43,.48,.63,.93,.73,.28,.38,.78,.33,.23,.18,.23,.38,.51,.78,.48,.31,.23,.18,.15,.13,.11,.13,.18,.31]
PTFESI_TOT_P_E = [-8,-7.73,-7.57,-7.44,-7.32,-7.19,-7.11,-7.03,-6.9,-6.74,-6.61,-6.49,-6.37,-6.28,-6.16,-6.03,-5.91,-5.79,-5.66,-5.54,-5.41,-5.29,-5.15,-5.02,-4.86,-4.71,-4.59,-4.46,-4.34,-4.24,-4.09,-3.97,-3.84,-3.72,-3.64,-3.49,-3.3,-3.18,-3.1,-2.96,-2.85,-2.68,-2.6,-2.44,-2.27,-2.17,-2.06,-1.94,-1.88,-1.84,-1.74,-1.65,-1.55,-1.41,-1.28,-1.16,-1.03,-0.91,-0.79,-0.66,-0.52,-0.41,-0.29,-0.12,-0.04,0.08,0.17,0.27,0.46,0.56,0.66,0.79,0.87,1.03,1.2,1.45,1.57,1.65,1.74,1.9,2.07,2.28,2.48,2.69,2.9,3.1,3.31,3.56,3.72,3.85,4.01]
PTFESI_TOT_P_D = [0,0,.17,.72,1.32,1.47,1.62,1.92,1.62,1.22,1.02,1.22,.72,1.32,1.37,1.92,2.47,2.22,2.07,2.52,2.72,2.27,1.77,2.22,1.82,2.22,2.82,2.37,2.17,1.92,1.87,1.67,2.07,1.92,2.12,1.47,2.22,1.92,1.92,2.52,2.22,2.07,1.82,1.87,2.72,2.32,2.37,3.02,3.42,2.82,3.32,2.97,3.67,2.22,2.02,2.42,2.02,2.02,1.72,.92,2.17,1.77,1.82,.82,.72,1.32,1.97,1.42,2.02,1.82,2.67,1.57,1.62,1.02,.82,.77,1.02,1.42,.97,.87,1.12,1.12,.92,.87,.82,.72,.82,1.22,1.07,1.07,.77]
PTFESI_TOT_F_E = [-8,-6.99,-6.86,-6.7,-6.57,-6.49,-6.41,-6.28,-6.2,-6.12,-6.03,-5.97,-5.91,-5.85,-5.79,-5.72,-5.66,-5.58,-5.52,-5.46,-5.39,-5.33,-5.25,-5.17,-5.08,-4.96,-4.88,-4.81,-4.75,-4.67,-4.55,-4.46,-4.38,-4.3,-4.24,-4.17,-4.11,-4.05,-3.99,-3.92,-3.84,-3.76,-3.64,-3.51,-3.43,-3.37,-3.3,-3.22,-3.1,-2.97,-2.89,-2.81,-2.68,-2.52,-2.44,-2.35,-2.27,-2.19,-2.06,-2.0,-1.94,-1.88,-1.82,-1.7,-1.57,-1.45,-1.37,-1.3,-1.2,-1.12,-1.0,-0.83,-0.58,-0.33,-0.12,-0.04,0.02,0.08,0.19,0.25,0.33,0.41,0.48,0.54,0.6,0.7,0.91,1.24,1.65,2.07,2.48,2.9,3.31,3.72,4.01]
PTFESI_TOT_F_D = [0,0,.12,1.02,1.72,2.62,2.32,2.62,2.52,1.82,1.12,.92,1.82,3.02,3.72,3.12,2.62,3.22,4.62,6.12,5.02,4.02,3.22,1.92,2.02,2.82,3.92,4.62,4.02,2.22,2.72,3.72,4.12,3.52,2.82,4.12,5.02,4.52,3.02,2.02,1.12,1.22,1.52,1.72,3.02,4.82,3.52,2.52,2.22,2.02,1.32,.92,1.32,1.72,2.52,1.62,2.32,3.02,3.42,3.92,2.82,1.52,1.32,1.32,1.92,2.52,3.02,3.42,2.32,1.52,.57,.52,.57,.67,.82,2.02,2.82,2.22,2.52,3.32,2.92,3.92,4.92,4.02,2.82,1.72,1.22,1.07,.87,.72,.52,.37,.47,.82,1.22]

PHASES = ["F-43m", "Pnma"]

# ---------------- panel specification (layout & which arrays go where) ----------------
PANELS = [
    dict(name="CoCrP", rect=[0.1182, 0.6920, 0.3959, 0.2717], ylim=15.3, xlim=(-8.15, 4.19),
         title=(0.005, 0.904, "left"), bottom=False,
         curves=[("Cr_total", 12.22, COCRP_CR_F_E, COCRP_CR_F_D, COCRP_CR_P_E, COCRP_CR_P_D, (0.990, 0.927)),
                 ("Co_total", 7.30, COCRP_CO_F_E, COCRP_CO_F_D, COCRP_CO_P_E, COCRP_CO_P_D, (0.955, 0.624)),
                 ("Total", 0.30, COCRP_TOT_F_E, COCRP_TOT_F_D, COCRP_TOT_P_E, COCRP_TOT_P_D, (0.934, 0.261))]),
    dict(name="NiCrP", rect=[0.5271, 0.6920, 0.3938, 0.2717], ylim=15.26, xlim=(-8.17, 4.15),
         title=(0.068, 0.897, "left"), bottom=False,
         curves=[("Cr_total", 11.83, NICRP_CR_F_E, NICRP_CR_F_D, NICRP_CR_P_E, NICRP_CR_P_D, (0.934, 0.934)),
                 ("Ni_total", 7.28, NICRP_NI_F_E, NICRP_NI_F_D, NICRP_NI_P_E, NICRP_NI_P_D, (0.939, 0.577)),
                 ("Total", 0.28, NICRP_TOT_F_E, NICRP_TOT_F_D, NICRP_TOT_P_E, NICRP_TOT_P_D, (0.904, 0.312))]),
    dict(name="NiMnSi", rect=[0.1182, 0.4082, 0.3959, 0.2761], ylim=15.0, xlim=(-8.15, 4.19),
         title=(0.042, 0.871, "left"), bottom=False, legend=True,
         curves=[("Mn_total", 11.55, NIMNSI_MN_F_E, NIMNSI_MN_F_D, NIMNSI_MN_P_E, NIMNSI_MN_P_D, (0.995, 0.908)),
                 ("Ni_total", 6.90, NIMNSI_NI_F_E, NIMNSI_NI_F_D, NIMNSI_NI_P_E, NIMNSI_NI_P_D, (0.990, 0.543)),
                 ("Total", 0.25, NIMNSI_TOT_F_E, NIMNSI_TOT_F_D, NIMNSI_TOT_P_E, NIMNSI_TOT_P_D, (0.946, 0.273))]),
    dict(name="CoMnSi", rect=[0.5271, 0.4069, 0.3938, 0.2774], ylim=15.2, xlim=(-8.17, 4.15),
         title=(0.042, 0.867, "left"), bottom=False, boxed_top=True,
         curves=[("Mn_total", 11.93, COMNSI_MN_F_E, COMNSI_MN_F_D, COMNSI_MN_P_E, COMNSI_MN_P_D, (1.003, 0.920)),
                 ("Co_total", 8.05, COMNSI_CO_F_E, COMNSI_CO_F_D, COMNSI_CO_P_E, COMNSI_CO_P_D, (0.988, 0.651)),
                 ("Total", 0.27, COMNSI_TOT_F_E, COMNSI_TOT_F_D, COMNSI_TOT_P_E, COMNSI_TOT_P_D, (0.967, 0.294))]),
    dict(name="PtMnSi", rect=[0.1182, 0.0989, 0.3931, 0.3004], ylim=14.55, xlim=(-8.15, 4.17),
         title=(0.028, 0.894, "left"), bottom=True,
         curves=[("Mn_total", 10.45, PTMNSI_MN_F_E, PTMNSI_MN_F_D, PTMNSI_MN_P_E, PTMNSI_MN_P_D, (0.984, 0.913)),
                 ("Pt_total", 6.60, PTMNSI_PT_F_E, PTMNSI_PT_F_D, PTMNSI_PT_P_E, PTMNSI_PT_P_D, (0.977, 0.563)),
                 ("Total", 0.13, PTMNSI_TOT_F_E, PTMNSI_TOT_F_D, PTMNSI_TOT_P_E, PTMNSI_TOT_P_D, (0.927, 0.329))]),
    dict(name="PtFeSi", rect=[0.5251, 0.0995, 0.3945, 0.2997], ylim=14.5, xlim=(-8.17, 4.15),
         title=(0.070, 0.874, "left"), bottom=True,
         curves=[("Fe_total", 10.60, PTFESI_FE_F_E, PTFESI_FE_F_D, PTFESI_FE_P_E, PTFESI_FE_P_D, (0.981, 0.832)),
                 ("Pt_total", 6.87, PTFESI_PT_F_E, PTFESI_PT_F_D, PTFESI_PT_P_E, PTFESI_PT_P_D, (0.970, 0.553)),
                 ("Total", 0.18, PTFESI_TOT_F_E, PTFESI_TOT_F_D, PTFESI_TOT_P_E, PTFESI_TOT_P_D, (0.939, 0.243))]),
]

# ---------------- sanity check on array lengths ----------------
_bad = []
for p in PANELS:
    for c in p["curves"]:
        if len(c[2]) != len(c[3]):
            _bad.append(f"{p['name']} {c[0]} F-43m: {len(c[2])} vs {len(c[3])}")
        if len(c[4]) != len(c[5]):
            _bad.append(f"{p['name']} {c[0]} Pnma: {len(c[4])} vs {len(c[5])}")
if _bad:
    raise ValueError("Length mismatch:\n" + "\n".join(_bad))

# ---------------- style ----------------
sns.set_style("ticks")
plt.rcParams["font.family"] = ["Liberation Sans", "DejaVu Sans"]
plt.rcParams["axes.unicode_minus"] = False

RED = "#ff0000"
LW_F = 2.5
LW_P = 2.8
DASH = (0, (3.2, 1.9))
LABEL_FS = 26.5

fig = plt.figure(figsize=(14.44, 15.56), dpi=200)

for p in PANELS:
    ax = fig.add_axes(p["rect"])
    rows = []
    for (lab, off, fe, fd, pe, pdv, _) in p["curves"]:
        for e, d in zip(fe, fd):
            rows.append((lab, "F-43m", e, d + off))
        for e, d in zip(pe, pdv):
            rows.append((lab, "Pnma", e, d + off))
    df = pd.DataFrame(rows, columns=["curve", "phase", "energy", "dos"])

    sns.lineplot(data=df[df.phase == "F-43m"], x="energy", y="dos", units="curve",
                 estimator=None, sort=False, color="black", lw=LW_F, linestyle=DASH,
                 ax=ax, legend=False)
    sns.lineplot(data=df[df.phase == "Pnma"], x="energy", y="dos", units="curve",
                 estimator=None, sort=False, color=RED, lw=LW_P,
                 ax=ax, legend=False)

    ax.axvline(0, color="black", lw=2.2, linestyle=(0, (0.9, 1.1)), zorder=1)

    ax.set_xlim(*p["xlim"])
    ax.set_ylim(0, p["ylim"])
    ax.set_xlabel("")
    ax.set_ylabel("")
    ax.set_yticks([])
    ax.xaxis.set_major_locator(MultipleLocator(5))
    ax.xaxis.set_minor_locator(MultipleLocator(1))
    ax.tick_params(axis="x", which="major", direction="in", length=14, width=2.0,
                   top=True, bottom=True, labelsize=32, pad=7, labelbottom=p["bottom"])
    ax.tick_params(axis="x", which="minor", direction="in", length=7, width=2.0,
                   top=True, bottom=True)
    for s in ax.spines.values():
        s.set_linewidth(2.4)
        s.set_color("black")

    # panel title
    tx, ty, tha = p["title"]
    ax.text(tx, ty, p["name"], transform=ax.transAxes, ha=tha, va="center", fontsize=LABEL_FS)
    # curve labels
    for i, (lab, off, fe, fd, pe, pdv, (lx, ly)) in enumerate(p["curves"]):
        kw = {}
        if p.get("boxed_top") and i == 0:
            kw = dict(bbox=dict(facecolor="white", edgecolor="none", pad=1.0), clip_on=False, zorder=10)
        ax.text(lx, ly, lab, transform=ax.transAxes, ha="right", va="center", fontsize=LABEL_FS, **kw)

    if p.get("legend"):
        handles = [Line2D([], [], color="black", lw=LW_F, linestyle=DASH),
                   Line2D([], [], color=RED, lw=LW_P)]
        ax.legend(handles, PHASES, loc="upper left", bbox_to_anchor=(0.038, 0.726),
                  frameon=False, fontsize=26, handlelength=1.9, handletextpad=0.55,
                  labelspacing=0.22, borderpad=0, borderaxespad=0)

fig.text(0.373, 0.0485, "Binding energy (eV)", ha="center", va="center", fontsize=34.5)
fig.text(0.746, 0.054, "Binding energy (eV)", ha="center", va="center", fontsize=34.5)
fig.text(0.098, 0.546, "DOS (States/eV f.u.)", ha="center", va="center", rotation=90, fontsize=34)

fig.savefig("out.png", dpi=200, facecolor="white")
